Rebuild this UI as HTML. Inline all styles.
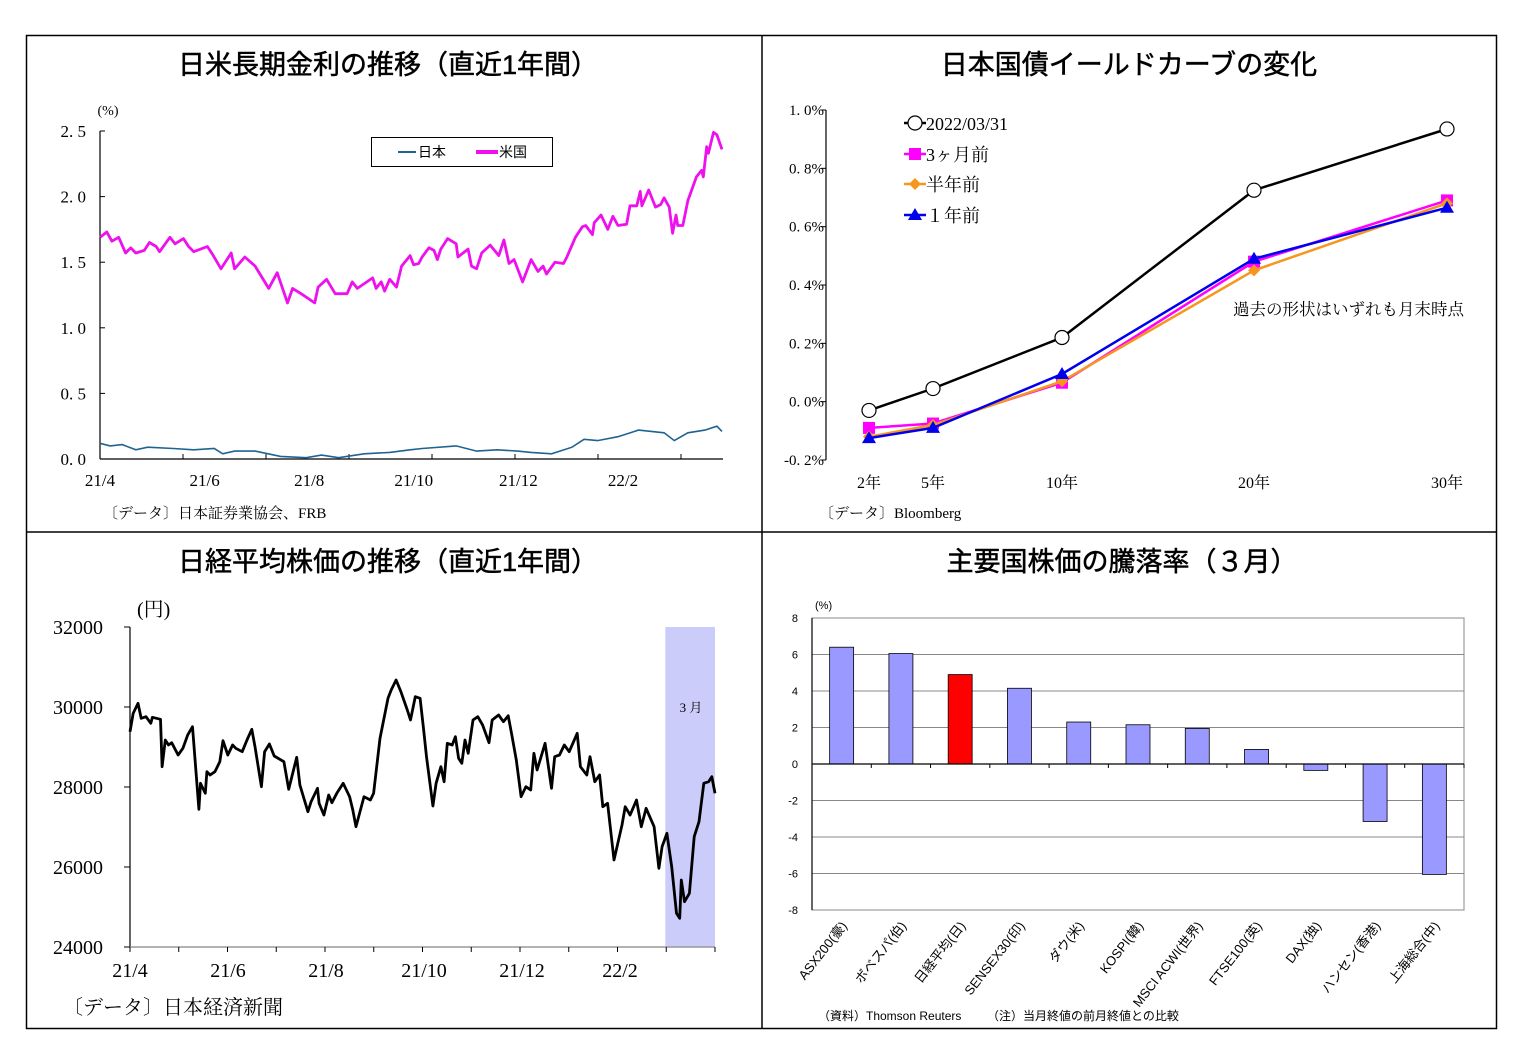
<!DOCTYPE html>
<html><head><meta charset="utf-8">
<style>
body{margin:0;background:#fff;}
svg{display:block;}
.t{font-family:"Liberation Sans","Noto Sans CJK JP",sans-serif;font-size:27px;fill:#000;stroke:#000;stroke-width:0.5;}
.s{font-family:"Liberation Serif","Noto Serif CJK SC",serif;fill:#000;}
.g{font-family:"Liberation Sans","Noto Sans CJK JP",sans-serif;fill:#000;}
</style></head>
<body>
<svg id="root" width="1527" height="1064" viewBox="0 0 1527 1064" xmlns="http://www.w3.org/2000/svg">
<rect x="0" y="0" width="1527" height="1064" fill="#fff"/>
<rect x="26.5" y="35.5" width="1470" height="993" fill="none" stroke="#000" stroke-width="1.5"/>
<line x1="762" y1="35" x2="762" y2="1029" stroke="#000" stroke-width="1.5"/>
<line x1="26" y1="532" x2="1497" y2="532" stroke="#000" stroke-width="1.5"/>

<text class="t" x="388" y="74" text-anchor="middle">日米長期金利の推移（直近1年間）</text>
<text class="t" x="1129" y="74" text-anchor="middle">日本国債イールドカーブの変化</text>
<text class="t" x="388" y="571" text-anchor="middle">日経平均株価の推移（直近1年間）</text>
<text class="t" x="1122" y="571" text-anchor="middle">主要国株価の騰落率（３月）</text>

<g id="c1"></g>
<g id="c2"></g>
<g id="c3"></g>
<g id="c4"></g>
</svg>
<script>
// ---------- Chart 1 data ----------
const usDays=[0,4,7,11,15,18,21,26,29,33,35,41,44,49,52,55,63,66,71,77,79,85,91,99,104,110,113,118,126,128,133,138,145,148,151,160,162,165,167,170,174,177,182,184,187,189,193,196,198,200,204,209,210,216,218,221,224,229,234,237,240,243,248,253,257,260,262,267,272,274,279,283,285,289,290,294,298,301,304,309,311,315,317,318,322,326,329,331,334,336,338,339,342,345,350,353,354,356,357,360,362,365];
const usVals=[1.69,1.73,1.66,1.69,1.57,1.61,1.57,1.59,1.65,1.62,1.58,1.69,1.64,1.68,1.62,1.58,1.62,1.56,1.45,1.57,1.45,1.54,1.47,1.30,1.42,1.19,1.30,1.26,1.19,1.31,1.37,1.26,1.26,1.35,1.30,1.38,1.30,1.35,1.28,1.37,1.31,1.47,1.55,1.48,1.49,1.54,1.61,1.59,1.52,1.60,1.68,1.64,1.54,1.60,1.47,1.45,1.57,1.63,1.55,1.67,1.49,1.52,1.35,1.52,1.43,1.47,1.41,1.50,1.49,1.54,1.69,1.77,1.78,1.71,1.80,1.86,1.75,1.85,1.78,1.79,1.93,1.93,2.04,1.93,2.05,1.92,1.94,1.99,1.92,1.72,1.86,1.78,1.78,1.97,2.15,2.20,2.15,2.38,2.33,2.49,2.47,2.36];
const jpDays=[0,6,13,21,28,43,55,67,72,79,91,106,121,130,140,155,170,182,189,209,221,233,245,253,265,277,284,292,304,316,331,337,345,355,362,365];
const jpVals=[0.12,0.10,0.11,0.07,0.09,0.08,0.07,0.08,0.04,0.06,0.06,0.02,0.01,0.03,0.01,0.04,0.05,0.07,0.08,0.10,0.06,0.07,0.06,0.05,0.04,0.09,0.15,0.14,0.17,0.22,0.20,0.14,0.20,0.22,0.25,0.21];
const c1Ticks=["0.0","0.5","1.0","1.5","2.0","2.5"];
const c1Months=["21/4","21/6","21/8","21/10","21/12","22/2"];

// ---------- Chart 2 data ----------
const tenors=["2年","5年","10年","20年","30年"];
const ycNow=[-0.03,0.045,0.22,0.725,0.935];
const yc3m=[-0.09,-0.075,0.065,0.48,0.69];
const yc6m=[-0.12,-0.08,0.07,0.45,0.68];
const yc1y=[-0.125,-0.09,0.095,0.49,0.665];
const ycTicks=["-0.2%","0.0%","0.2%","0.4%","0.6%","0.8%","1.0%"];

// ---------- Chart 3 data ----------
const nkDays=[0,2,5,7,10,13,14,19,20,22,24,26,30,33,36,39,43,44,47,48,50,53,56,58,61,64,66,70,73,76,78,82,84,87,90,96,99,104,106,111,113,117,118,121,124,126,129,133,137,139,141,146,150,152,156,161,163,166,169,173,175,178,181,183,185,189,191,194,196,198,201,203,205,207,209,211,214,217,220,224,226,230,233,236,238,241,244,247,250,252,254,259,263,265,268,271,274,279,281,285,287,290,293,295,298,302,307,309,312,316,319,322,327,330,332,335,338,341,343,344,346,349,352,355,358,361,363,365];
const nkVals=[29383,29842,30092,29717,29758,29592,29742,29692,28508,29175,29050,29108,28800,28967,29300,29508,27442,28092,27842,28383,28300,28383,28633,29158,28800,29050,28967,28883,29175,29442,29008,28008,28883,29075,28775,28633,27942,28742,28050,27383,27633,27967,27592,27300,27800,27608,27842,28092,27758,27425,27008,27758,27675,27842,29217,30217,30425,30675,30383,29925,29675,30258,30217,29508,28758,27525,28092,28508,28133,29092,29050,29258,28717,28592,29175,28842,29675,29758,29550,29108,29675,29800,29633,29783,29342,28675,27758,28008,27925,28842,28425,29092,27967,28758,28800,29050,28883,29342,28508,28300,28758,28133,28300,27508,27592,26175,27050,27508,27300,27675,27008,27467,27008,25967,26508,26842,26008,24842,24717,25675,25133,25342,26758,27133,28092,28133,28258,27842];
const nkTicks=["24000","26000","28000","30000","32000"];
const nkMonths=["21/4","21/6","21/8","21/10","21/12","22/2"];

// ---------- Chart 4 data ----------
const idxNames=["ASX200(豪)","ボベスパ(伯)","日経平均(日)","SENSEX30(印)","ダウ(米)","KOSPI(韓)","MSCI ACWI(世界)","FTSE100(英)","DAX(独)","ハンセン(香港)","上海総合(中)"];
const idxVals=[6.4,6.05,4.9,4.15,2.3,2.15,1.95,0.8,-0.35,-3.15,-6.05];
const barTicks=["-8","-6","-4","-2","0","2","4","6","8"];

const NS="http://www.w3.org/2000/svg";
function mk(parent,tag,attrs,text){const e=document.createElementNS(NS,tag);for(const k in attrs)e.setAttribute(k,attrs[k]);if(text!==undefined)e.textContent=text;parent.appendChild(e);return e;}

// ===== Chart 1 =====
(function(){
const g=document.getElementById('c1');
const X0=100,X1=722,Y0=459,Y1=131;
const xs=d=>X0+d/365*(X1-X0);
const ys=v=>Y0-v/2.5*(Y0-Y1);
let e=mk(g,'line',{x1:X0,y1:Y1,x2:X0,y2:Y0,stroke:'#000','stroke-width':1.2});


e=mk(g,'line',{x1:X0,y1:Y0,x2:X1+1,y2:Y0,stroke:'#000','stroke-width':1.2});


c1Ticks.forEach((t,i)=>{const y=ys(+t);
 mk(g,'line',{x1:X0,y1:y,x2:X0+5,y2:y,stroke:'#000'});
 const tx=mk(g,'text',{x:86,y:y+6,'text-anchor':'end','font-size':17,class:'s'},t.replace('.','. '));
 
 
});
for(let k=0;k<=7;k++){const x=X0+k*83;if(x<=X1)mk(g,'line',{x1:x,y1:Y0,x2:x,y2:Y0-5,stroke:'#000'});}
c1Months.forEach((m,i)=>{const tx=mk(g,'text',{x:X0+i*104.6,y:486,'text-anchor':'middle','font-size':17,class:'s'},m);
 
 });
e=mk(g,'text',{x:108,y:115,'text-anchor':'middle','font-size':14,class:'s'},'(%)');


let p=mk(g,'path',{d:jpDays.map((d,i)=>(i?'L':'M')+xs(d).toFixed(1)+','+ys(jpVals[i]).toFixed(1)).join(''),fill:'none',stroke:'#1f6391','stroke-width':1.6});


p=mk(g,'path',{d:usDays.map((d,i)=>(i?'L':'M')+xs(d).toFixed(1)+','+ys(usVals[i]).toFixed(1)).join(''),fill:'none',stroke:'#ee10ee','stroke-width':2.8,'stroke-linejoin':'round'});


const lg=mk(g,'g',{});


mk(lg,'rect',{x:371.5,y:137.5,width:181,height:29,fill:'#fff',stroke:'#000'});
mk(lg,'line',{x1:398,y1:152,x2:416,y2:152,stroke:'#1f6391','stroke-width':2});
mk(lg,'text',{x:418,y:157,'font-size':14,class:'g'},'日本');
mk(lg,'line',{x1:476,y1:152,x2:498,y2:152,stroke:'#ee10ee','stroke-width':4});
mk(lg,'text',{x:499,y:157,'font-size':14,class:'g'},'米国');
e=mk(g,'text',{x:103,y:518,'font-size':15,class:'s'},'〔データ〕日本証券業協会、FRB');


})();

// ===== Chart 2 =====
(function(){
const g=document.getElementById('c2');
const X0=826,Y0=460,Y1=110;
const tenorX=[869,933,1062,1254,1447];
const xs=i=>tenorX[i];
const ys=v=>Y0-(v+0.2)/1.2*(Y0-Y1);
let e=mk(g,'line',{x1:X0,y1:Y1,x2:X0,y2:Y0,stroke:'#000','stroke-width':1.2});


ycTicks.forEach(t=>{const y=ys(parseFloat(t));
 mk(g,'line',{x1:X0-5,y1:y,x2:X0,y2:y,stroke:'#000'});
 const tx=mk(g,'text',{x:824,y:y+5,'text-anchor':'end','font-size':15,class:'s'},t.replace('.','. '));
 
 });
tenors.forEach((t,i)=>{const tx=mk(g,'text',{x:xs(i),y:488,'text-anchor':'middle','font-size':16,class:'s'},t);
 
 });
function series(vals,color,w,name,marker){
 const s=mk(g,'g',{});
 
 
 mk(s,'path',{d:vals.map((v,i)=>(i?'L':'M')+xs(i)+','+ys(v).toFixed(1)).join(''),fill:'none',stroke:color,'stroke-width':w});
 vals.forEach((v,i)=>marker(s,xs(i),ys(v)));
}
const sq=c=>(s,x,y)=>mk(s,'rect',{x:x-6,y:y-6,width:12,height:12,fill:c});
const dia=c=>(s,x,y)=>mk(s,'path',{d:`M${x},${y-6}L${x+6},${y}L${x},${y+6}L${x-6},${y}Z`,fill:c});
const tri=c=>(s,x,y)=>mk(s,'path',{d:`M${x},${y-7}L${x+7},${y+5}L${x-7},${y+5}Z`,fill:c});
const circ=(s,x,y)=>mk(s,'circle',{cx:x,cy:y,r:7,fill:'#fff',stroke:'#000','stroke-width':1.2});
series(yc3m,'#f0f',2.5,'series-3m',sq('#f0f'));
series(yc6m,'#f7961e',2.5,'series-6m',dia('#f7961e'));
series(yc1y,'#0000ee',2.5,'series-1y',tri('#0000ee'));
series(ycNow,'#000',2.5,'series-now',circ);
const lg=mk(g,'g',{});


const ly=[123,154,184,215],lc=['#000','#f0f','#f7961e','#0000ee'],ll=['2022/03/31','3ヶ月前','半年前','１年前'],lm=[circ,sq('#f0f'),dia('#f7961e'),tri('#0000ee')];
ly.forEach((y,i)=>{mk(lg,'line',{x1:904,y1:y,x2:926,y2:y,stroke:lc[i],'stroke-width':2.5});lm[i](lg,915,y);
 mk(lg,'text',{x:926,y:y+7,'font-size':18,class:'s'},ll[i]);});
e=mk(g,'text',{x:1233,y:315,'font-size':16.5,class:'s'},'過去の形状はいずれも月末時点');


e=mk(g,'text',{x:819,y:518,'font-size':15,class:'s'},'〔データ〕Bloomberg');


})();

// ===== Chart 3 =====
(function(){
const g=document.getElementById('c3');
const X0=130,X1=715,Y0=947,Y1=627;
const xs=d=>X0+d/365*(X1-X0);
const ys=v=>Y0-(v-24000)/8000*(Y0-Y1);
let e=mk(g,'rect',{x:xs(334),y:Y1,width:X1-xs(334),height:Y0-Y1,fill:'#ccccfa'});


e=mk(g,'text',{x:691,y:712,'text-anchor':'middle','font-size':13,class:'s'},'3 月');


e=mk(g,'line',{x1:X0,y1:Y1,x2:X0,y2:Y0,stroke:'#000','stroke-width':1.2});


e=mk(g,'line',{x1:X0,y1:Y0,x2:X1,y2:Y0,stroke:'#999','stroke-width':1.5});


nkTicks.forEach(t=>{const y=ys(+t);mk(g,'line',{x1:X0-6,y1:y,x2:X0,y2:y,stroke:'#000'});
 const tx=mk(g,'text',{x:103,y:y+7,'text-anchor':'end','font-size':20,class:'s'},t);
 
 });
for(let k=0;k<=12;k++){const x=X0+k*(X1-X0)/12;mk(g,'line',{x1:x,y1:Y0,x2:x,y2:Y0+5,stroke:'#000'});}
nkMonths.forEach((m,i)=>{const tx=mk(g,'text',{x:X0+i*98,y:977,'text-anchor':'middle','font-size':20,class:'s'},m);
 
 });
e=mk(g,'text',{x:137,y:616,'font-size':20,class:'s'},'(円)');


const p=mk(g,'path',{d:nkDays.map((d,i)=>(i?'L':'M')+xs(d).toFixed(1)+','+ys(nkVals[i]).toFixed(1)).join(''),fill:'none',stroke:'#000','stroke-width':2.8,'stroke-linejoin':'round'});


e=mk(g,'text',{x:63,y:1014,'font-size':20,class:'s'},'〔データ〕日本経済新聞');


})();

// ===== Chart 4 =====
(function(){
const g=document.getElementById('c4');
const X0=812,X1=1464,Y0=910,Y1=618;
const bw=(X1-X0)/idxNames.length;
const ys=v=>Y0-(v+8)/16*(Y0-Y1);
let e=mk(g,'rect',{x:X0,y:Y1,width:X1-X0,height:Y0-Y1,fill:'#fff',stroke:'#888'});


barTicks.forEach(t=>{const v=+t,y=ys(v);
 if(v!==8&&v!==-8&&v!==0)mk(g,'line',{x1:X0,y1:y,x2:X1,y2:y,stroke:'#888'});
 const tx=mk(g,'text',{x:798,y:y+4,'text-anchor':'end','font-size':11,class:'g',fill:v<0?'#c00000':'#000'},t);
 
 });
e=mk(g,'line',{x1:X0,y1:Y1,x2:X0,y2:Y0,stroke:'#000','stroke-width':1.2});


e=mk(g,'text',{x:815,y:609,'font-size':11,class:'g'},'(%)');


idxVals.forEach((v,i)=>{const cx=X0+bw*(i+0.5);const y=ys(Math.max(v,0)),h=Math.abs(ys(v)-ys(0));
 const r=mk(g,'rect',{x:cx-12,y:y,width:24,height:h,fill:i===2?'#ff0000':'#9999ff',stroke:'#000','stroke-width':0.8});
 
 
 const tx=mk(g,'text',{x:cx+6,y:926,'text-anchor':'end','font-size':13,class:'g',transform:`rotate(-52 ${cx+6} 926)`},idxNames[i]);
 
 });
e=mk(g,'line',{x1:X0,y1:ys(0),x2:X1,y2:ys(0),stroke:'#000','stroke-width':1.2});


for(let k=0;k<=idxNames.length;k++){const x=X0+k*bw;mk(g,'line',{x1:x,y1:ys(0),x2:x,y2:ys(0)+4,stroke:'#000'});}
e=mk(g,'text',{x:818,y:1020,'font-size':12,class:'g'},'（資料）Thomson Reuters');


e=mk(g,'text',{x:987,y:1020,'font-size':12,class:'g'},'（注）当月終値の前月終値との比較');


})();
</script>
</body></html>
